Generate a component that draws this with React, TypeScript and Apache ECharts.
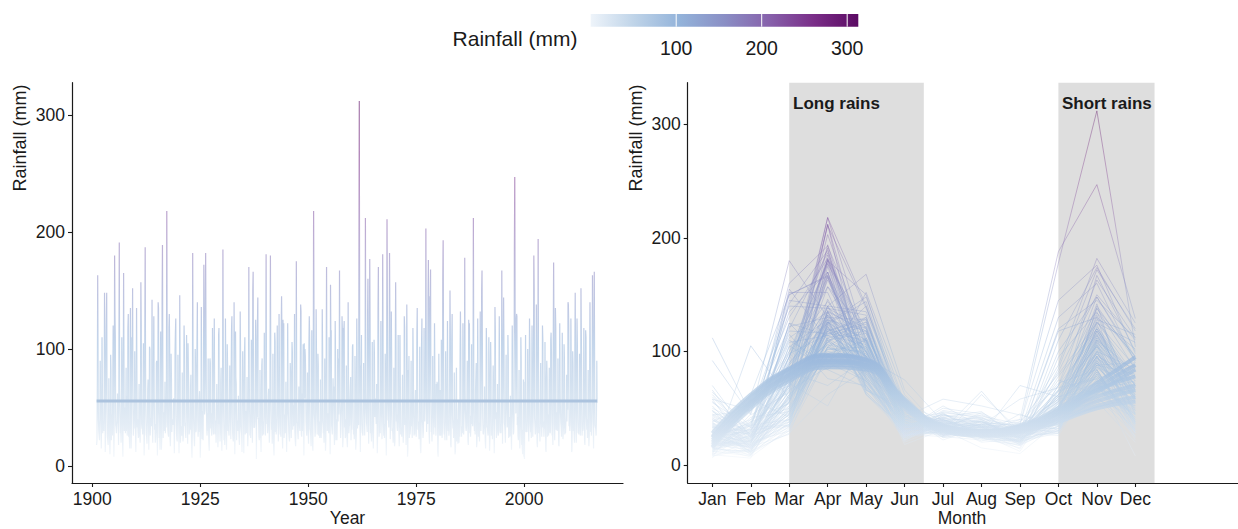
import React, { useEffect, useRef } from "react";
import * as echarts from "echarts";

// ---------- DATA (monthly rainfall, mm, 1901-2016) ----------
const firstYear = 1901;
const monthNames = ["Jan", "Feb", "Mar", "Apr", "May", "Jun", "Jul", "Aug", "Sep", "Oct", "Nov", "Dec"];

const janRain = [
  18, 42, 12, 25, 8, 35, 22, 60, 15, 30,
  27, 9, 48, 20, 33, 14, 55, 24, 11, 38,
  21, 66, 16, 29, 7, 44, 19, 31, 52, 13,
  26, 37, 10, 23, 58, 17, 34, 6, 28, 45,
  20, 15, 40, 25, 12, 70, 22, 33, 9, 27,
  18, 47, 24, 13, 36, 29, 92, 16, 21, 39,
  14, 30, 62, 19, 26, 11, 43, 35, 23, 17,
  32, 20, 8, 56, 25, 15, 38, 28, 48, 12,
  24, 34, 18, 10, 41, 27, 21, 64, 16, 30,
  22, 13, 37, 26, 19, 50, 29, 112, 15, 9,
  33, 25, 20, 44, 14, 28, 36, 18, 23, 58,
  12, 31, 26, 21, 17, 40,
];
const febRain = [
  22, 15, 30, 10, 45, 18, 8, 26, 36, 12,
  20, 28, 14, 52, 9, 24, 33, 17, 40, 11,
  25, 19, 7, 31, 22, 48, 13, 27, 16, 35,
  14, 23, 38, 18, 11, 29, 20, 58, 12, 26,
  32, 9, 21, 15, 42, 24, 17, 30, 105, 19,
  13, 27, 35, 22, 10, 18, 44, 25, 16, 31,
  20, 12, 26, 47, 15, 33, 23, 9, 38, 21,
  17, 29, 14, 24, 36, 11, 55, 19, 27, 8,
  30, 22, 16, 12, 25, 40, 18, 34, 21, 62,
  15, 24, 11, 28, 19, 33, 14, 45, 26, 6,
  21, 37, 16, 25, 12, 29, 22, 17, 31, 48,
  13, 20, 34, 18, 26, 15,
];
const marRain = [
  72, 45, 88, 30, 180, 95, 60, 38, 110, 52,
  65, 120, 40, 85, 56, 142, 70, 35, 98, 48,
  58, 105, 32, 76, 44, 130, 62, 90, 27, 68,
  50, 84, 115, 36, 72, 55, 150, 42, 66, 80,
  95, 38, 60, 125, 47, 70, 33, 88, 58, 104,
  78, 52, 40, 92, 155, 36, 64, 118, 45, 74,
  30, 86, 58, 100, 42, 135, 68, 77, 50, 96,
  60, 40, 82, 48, 112, 34, 70, 145, 56, 62,
  160, 46, 74, 28, 90, 54, 125, 66, 38, 150,
  55, 80, 42, 68, 100, 35, 58, 122, 46, 72,
  64, 88, 50, 40, 76, 108, 44, 62, 34, 140,
  48, 70, 152, 56, 84, 95,
];
const aprRain = [
  163, 110, 125, 95, 130, 191, 165, 118, 88, 135,
  157, 187, 102, 128, 140, 189, 218, 96, 115, 146,
  120, 84, 182, 108, 136, 182, 92, 126, 112, 185,
  104, 118, 76, 132, 98, 170, 166, 124, 86, 181,
  180, 114, 130, 90, 122, 106, 175, 138, 100, 128,
  218, 96, 134, 170, 110, 124, 167, 116, 140, 102,
  126, 84, 212, 177, 108, 170, 181, 211, 132, 157,
  112, 128, 70, 118, 135, 104, 203, 140, 122, 96,
  193, 124, 108, 62, 132, 178, 114, 212, 126, 167,
  118, 106, 136, 128, 144, 112, 120, 130, 110, 52,
  126, 180, 194, 120, 90, 114, 135, 122, 104, 138,
  98, 126, 152, 116, 140, 166,
];
const mayRain = [
  95, 70, 148, 82, 110, 66, 92, 130, 152, 78,
  120, 84, 100, 64, 135, 90, 108, 74, 126, 86,
  102, 68, 94, 140, 76, 112, 88, 62, 118, 98,
  84, 128, 70, 96, 110, 80, 62, 144, 92, 74,
  88, 106, 78, 122, 66, 98, 72, 132, 94, 110,
  140, 86, 100, 64, 116, 92, 82, 124, 70, 104,
  90, 112, 66, 120, 96, 78, 108, 138, 86, 100,
  74, 118, 94, 88, 62, 126, 104, 168, 80, 96,
  110, 72, 130, 84, 100, 66, 122, 92, 76, 106,
  96, 84, 116, 70, 102, 90, 76, 128, 88, 112,
  100, 150, 82, 108, 74, 96, 118, 68, 92, 120,
  86, 104, 76, 110, 94, 80,
];
const junRain = [
  40, 28, 55, 22, 35, 48, 30, 25, 62, 33,
  36, 44, 26, 31, 50, 24, 38, 29, 42, 20,
  34, 27, 46, 39, 23, 58, 32, 28, 37, 45,
  30, 41, 22, 35, 27, 52, 33, 40, 26, 36,
  48, 29, 34, 24, 43, 31, 38, 27, 75, 32,
  44, 26, 39, 30, 35, 22, 47, 33, 28, 40,
  32, 37, 50, 28, 42, 25, 36, 54, 30, 38,
  27, 35, 24, 45, 31, 40, 29, 66, 33, 26,
  38, 30, 43, 21, 34, 47, 28, 36, 25, 41,
  33, 26, 40, 30, 37, 24, 45, 35, 18, 29,
  36, 42, 28, 33, 25, 39, 31, 46, 27, 34,
  30, 38, 26, 43, 29, 35,
];
const julRain = [
  30, 38, 25, 44, 33, 28, 50, 35, 26, 40,
  32, 27, 41, 36, 24, 46, 30, 38, 28, 34,
  37, 29, 33, 25, 42, 31, 45, 27, 36, 22,
  35, 28, 39, 30, 47, 26, 33, 41, 29, 37,
  31, 40, 27, 34, 29, 52, 36, 25, 38, 30,
  39, 33, 28, 45, 31, 36, 24, 40, 34, 27,
  42, 29, 37, 31, 58, 34, 26, 39, 32, 44,
  33, 41, 30, 26, 38, 35, 48, 29, 36, 31,
  27, 36, 32, 40, 25, 33, 43, 30, 37, 28,
  34, 30, 46, 28, 35, 39, 27, 42, 31, 36,
  29, 35, 33, 38, 44, 26, 32, 37, 30, 40,
  36, 28, 34, 31, 39, 33,
];
const augRain = [
  26, 34, 22, 40, 28, 31, 45, 24, 36, 29,
  33, 25, 38, 20, 30, 42, 27, 35, 23, 31,
  28, 36, 24, 32, 47, 26, 30, 39, 21, 34,
  30, 23, 35, 27, 41, 29, 33, 25, 38, 28,
  36, 27, 31, 44, 24, 34, 28, 62, 30, 26,
  25, 38, 29, 33, 27, 40, 31, 24, 35, 32,
  37, 28, 34, 26, 52, 30, 36, 41, 29, 33,
  29, 35, 27, 31, 38, 24, 43, 30, 26, 65,
  31, 26, 39, 28, 34, 30, 25, 37, 33, 27,
  28, 33, 24, 36, 30, 42, 29, 26, 15, 32,
  34, 27, 31, 25, 38, 29, 46, 33, 28, 30,
  27, 35, 30, 40, 26, 32,
];
const sepRain = [
  22, 30, 18, 26, 35, 20, 28, 15, 32, 24,
  27, 19, 34, 23, 14, 30, 25, 40, 21, 28,
  24, 31, 17, 29, 22, 45, 26, 20, 33, 18,
  26, 21, 30, 12, 28, 24, 38, 22, 27, 31,
  19, 33, 25, 28, 21, 36, 23, 30, 26, 17,
  29, 24, 20, 34, 27, 22, 31, 25, 58, 23,
  35, 26, 29, 21, 44, 28, 24, 33, 20, 30,
  25, 18, 32, 27, 23, 29, 36, 21, 70, 26,
  22, 30, 24, 19, 28, 34, 25, 27, 21, 32,
  26, 23, 31, 28, 20, 25, 40, 22, 10, 29,
  24, 29, 21, 33, 26, 18, 30, 25, 28, 35,
  20, 27, 32, 24, 38, 26,
];
const octRain = [
  45, 60, 32, 78, 40, 55, 28, 95, 50, 36,
  62, 38, 48, 30, 70, 44, 118, 35, 52, 26,
  40, 66, 34, 58, 85, 30, 48, 42, 72, 38,
  54, 28, 44, 65, 36, 50, 80, 32, 46, 60,
  35, 52, 120, 40, 30, 58, 45, 66, 38, 48,
  62, 34, 50, 28, 75, 42, 56, 38, 68, 30,
  178, 46, 130, 52, 36, 60, 40, 88, 34, 50,
  44, 70, 32, 56, 38, 48, 145, 42, 60, 28,
  52, 82, 36, 46, 30, 58, 40, 65, 48, 35,
  42, 56, 30, 50, 62, 34, 188, 46, 38, 52,
  66, 40, 54, 32, 48, 110, 36, 58, 44, 62,
  100, 45, 56, 38, 70, 42,
];
const novRain = [
  90, 148, 75, 120, 62, 110, 84, 135, 98, 70,
  105, 66, 142, 88, 115, 72, 130, 58, 95, 80,
  112, 78, 100, 64, 172, 92, 118, 70, 84, 126,
  86, 140, 60, 98, 76, 108, 125, 82, 114, 66,
  96, 120, 145, 72, 88, 130, 68, 104, 80, 116,
  134, 74, 92, 110, 62, 100, 128, 86, 76, 94,
  312, 88, 160, 106, 70, 124, 96, 182, 84, 112,
  78, 138, 90, 65, 102, 118, 176, 94, 72, 108,
  98, 150, 80, 56, 122, 90, 104, 76, 132, 68,
  110, 86, 70, 167, 95, 60, 247, 82, 74, 100,
  120, 138, 88, 106, 84, 174, 92, 114, 78, 126,
  148, 96, 118, 82, 163, 90,
];
const decRain = [
  60, 95, 38, 70, 45, 82, 30, 58, 66, 25,
  48, 74, 36, 90, 55, 28, 102, 42, 62, 35,
  70, 40, 85, 52, 120, 34, 64, 46, 28, 78,
  55, 92, 32, 60, 42, 70, 108, 24, 58, 48,
  36, 66, 112, 44, 80, 30, 52, 74, 40, 62,
  96, 28, 58, 45, 68, 38, 115, 54, 22, 72,
  104, 50, 90, 36, 62, 44, 78, 125, 30, 56,
  42, 84, 34, 65, 28, 58, 98, 46, 70, 38,
  64, 110, 40, 20, 76, 52, 36, 88, 60, 45,
  56, 72, 30, 100, 48, 26, 129, 40, 8, 62,
  74, 95, 44, 58, 32, 118, 50, 66, 38, 86,
  92, 48, 70, 36, 112, 54,
];

const smoothCurve1 = [22, 55, 78, 90, 88, 55, 33, 28, 31, 40, 52, 60];
const smoothCurve2 = [18, 52, 76, 88, 86, 52, 31, 27, 30, 42, 56, 66];
const smoothCurve3 = [25, 58, 82, 94, 90, 56, 34, 29, 33, 45, 60, 70];
const smoothCurve4 = [15, 50, 74, 86, 84, 50, 30, 26, 29, 38, 50, 56];
const smoothCurve5 = [28, 62, 85, 97, 93, 58, 35, 30, 34, 48, 66, 78];
const smoothCurve6 = [20, 56, 80, 92, 88, 54, 32, 28, 32, 46, 68, 88];
const smoothCurve7 = [24, 60, 84, 96, 92, 57, 34, 30, 35, 50, 72, 95];
const smoothCurve8 = [16, 54, 79, 91, 87, 52, 31, 27, 31, 44, 64, 84];

const trendLevel = 55.5;
const yearTicks = [1900, 1925, 1950, 1975, 2000];
const rainTicks = [0, 100, 200, 300];
const legendTicks = [100, 200, 300];
const legendMax = 313;
const longRains = [3, 6.5];
const shortRains = [10, 12.5];

const paletteStops = [
  [0, "#eef4fa"],
  [52, "#bed3e8"],
  [104, "#93b3da"],
  [156, "#8a8fc5"],
  [209, "#8761ab"],
  [261, "#7a2e88"],
  [313, "#5b0a63"],
];

const FONT = "'Liberation Sans', Arial, Helvetica, sans-serif";
const INK = "#1a1a1a";

export default function App() {
  const ref = useRef<HTMLDivElement>(null);

  useEffect(() => {
    const chart = echarts.init(ref.current as HTMLDivElement, null, { renderer: "svg" });
    const monthly = [janRain, febRain, marRain, aprRain, mayRain, junRain, julRain, augRain, sepRain, octRain, novRain, decRain];
    const smoothCurves = [smoothCurve1, smoothCurve2, smoothCurve3, smoothCurve4, smoothCurve5, smoothCurve6, smoothCurve7, smoothCurve8];
    const nYears = janRain.length;

    const leftData: number[][] = [];
    const yearSeries: any[] = [];
    for (let i = 0; i < nYears; i++) {
      const row = monthly.map((arr) => arr[i]);
      row.forEach((v, m) => leftData.push([firstYear + i + m / 12, v]));
      yearSeries.push({
        type: "line",
        xAxisIndex: 1,
        yAxisIndex: 1,
        data: row.map((v, m) => [m + 1, v]),
        symbol: "none",
        silent: true,
        lineStyle: { width: 1, opacity: 0.36 },
        z: 3,
      });
    }
    const smoothSeries = smoothCurves.map((c) => ({
      type: "line",
      xAxisIndex: 1,
      yAxisIndex: 1,
      data: c.map((v, m) => [m + 1, v]),
      symbol: "none",
      smooth: 0.5,
      silent: true,
      lineStyle: { width: 4, opacity: 0.75 },
      z: 4,
    }));

    const lastX = leftData[leftData.length - 1][0];

    const series: any[] = [
      {
        type: "line",
        xAxisIndex: 0,
        yAxisIndex: 0,
        data: leftData,
        symbol: "none",
        silent: true,
        lineStyle: { width: 1.2, opacity: 0.55 },
        z: 3,
      },
      {
        type: "line",
        xAxisIndex: 0,
        yAxisIndex: 0,
        data: [
          [firstYear, trendLevel],
          [lastX, trendLevel],
        ],
        symbol: "none",
        silent: true,
        lineStyle: { width: 3, color: "#acc3de" },
        z: 4,
      },
      {
        type: "line",
        xAxisIndex: 1,
        yAxisIndex: 1,
        data: [],
        symbol: "none",
        silent: true,
        z: 1,
        markArea: {
          silent: true,
          itemStyle: { color: "#dedede" },
          label: { show: false },
          data: [
            [{ xAxis: longRains[0] }, { xAxis: longRains[1] }],
            [{ xAxis: shortRains[0] }, { xAxis: shortRains[1] }],
          ],
        },
      },
      ...yearSeries,
      ...smoothSeries,
    ];

    const vmSeries = [0];
    for (let i = 3; i < series.length; i++) vmSeries.push(i);

    const axisCommon = {
      splitLine: { show: false },
      axisLine: { onZero: false, lineStyle: { color: INK, width: 1.2 } },
    };
    const labelStyle = { fontSize: 17.5, color: INK, fontFamily: FONT };

    const textItem = (x: number, y: number, text: string, font: string, extra: any = {}) => ({
      type: "text",
      x,
      y,
      silent: true,
      z: 100,
      ...extra,
      style: { text, align: "center", verticalAlign: "middle", font, fill: INK, ...(extra.style || {}) },
    });

    // legend
    const lgX = 590.7;
    const lgY = 14;
    const lgW = 267.6;
    const lgH = 12.7;
    const graphics: any[] = [
      {
        type: "rect",
        shape: { x: lgX, y: lgY, width: lgW, height: lgH },
        style: {
          fill: new echarts.graphic.LinearGradient(
            0, 0, 1, 0,
            paletteStops.map(([v, c]) => ({ offset: (v as number) / legendMax, color: c as string }))
          ),
        },
        silent: true,
      },
      ...legendTicks.map((t) => ({
        type: "line",
        shape: { x1: lgX + (t / legendMax) * lgW, y1: lgY, x2: lgX + (t / legendMax) * lgW, y2: lgY + lgH },
        style: { stroke: "#ffffff", lineWidth: 1 },
        silent: true,
      })),
      ...legendTicks.map((t) => textItem(lgX + (t / legendMax) * lgW, 47.5, String(t), `19.5px ${FONT}`)),
      textItem(515, 38, "Rainfall (mm)", `21px ${FONT}`),
      textItem(20, 138, "Rainfall (mm)", `18px ${FONT}`, { rotation: Math.PI / 2 }),
      textItem(636, 138, "Rainfall (mm)", `18px ${FONT}`, { rotation: Math.PI / 2 }),
      textItem(347.5, 518, "Year", `17.5px ${FONT}`),
      textItem(962, 518, "Month", `17.5px ${FONT}`),
      textItem(793, 103, "Long rains", `bold 17px ${FONT}`, { style: { align: "left" } }),
      textItem(1062, 103, "Short rains", `bold 17px ${FONT}`, { style: { align: "left" } }),
    ];

    chart.setOption({
      animation: false,
      backgroundColor: "#ffffff",
      textStyle: { fontFamily: FONT },
      grid: [
        { left: 72, top: 82.7, width: 551, height: 400.3, outerBoundsMode: "none", containLabel: false },
        { left: 687.7, top: 82.7, width: 550.3, height: 400.3, outerBoundsMode: "none", containLabel: false },
      ],
      xAxis: [
        {
          type: "value",
          gridIndex: 0,
          min: 1895.3,
          max: 2022.9,
          ...axisCommon,
          axisTick: { show: true, customValues: yearTicks, length: 4, lineStyle: { color: INK, width: 1.1 } },
          axisLabel: { ...labelStyle, margin: 7, customValues: yearTicks, formatter: (v: number) => String(v) },
        },
        {
          type: "value",
          gridIndex: 1,
          min: 0.36,
          max: 14.67,
          ...axisCommon,
          axisTick: { show: true, customValues: monthNames.map((_, i) => i + 1), length: 4, lineStyle: { color: INK, width: 1.1 } },
          axisLabel: {
            ...labelStyle,
            margin: 7,
            customValues: monthNames.map((_, i) => i + 1),
            formatter: (v: number) => monthNames[Math.round(v) - 1] || "",
          },
        },
      ],
      yAxis: [
        {
          type: "value",
          gridIndex: 0,
          min: -14.5,
          max: 327.6,
          ...axisCommon,
          axisTick: { show: true, customValues: rainTicks, length: 4, lineStyle: { color: INK, width: 1.1 } },
          axisLabel: { ...labelStyle, margin: 7, customValues: rainTicks, formatter: (v: number) => String(v) },
        },
        {
          type: "value",
          gridIndex: 1,
          min: -15.9,
          max: 336.8,
          ...axisCommon,
          axisTick: { show: true, customValues: rainTicks, length: 4, lineStyle: { color: INK, width: 1.1 } },
          axisLabel: { ...labelStyle, margin: 7, customValues: rainTicks, formatter: (v: number) => String(v) },
        },
      ],
      visualMap: {
        type: "continuous",
        show: false,
        min: 0,
        max: legendMax,
        dimension: 1,
        seriesIndex: vmSeries,
        inRange: { color: paletteStops.map((s) => s[1] as string) },
      },
      graphic: graphics,
      series,
    });

    return () => {
      chart.dispose();
    };
  }, []);

  return <div ref={ref} style={{ position: "absolute", left: 0, top: 0, width: 1238, height: 529 }} />;
}
